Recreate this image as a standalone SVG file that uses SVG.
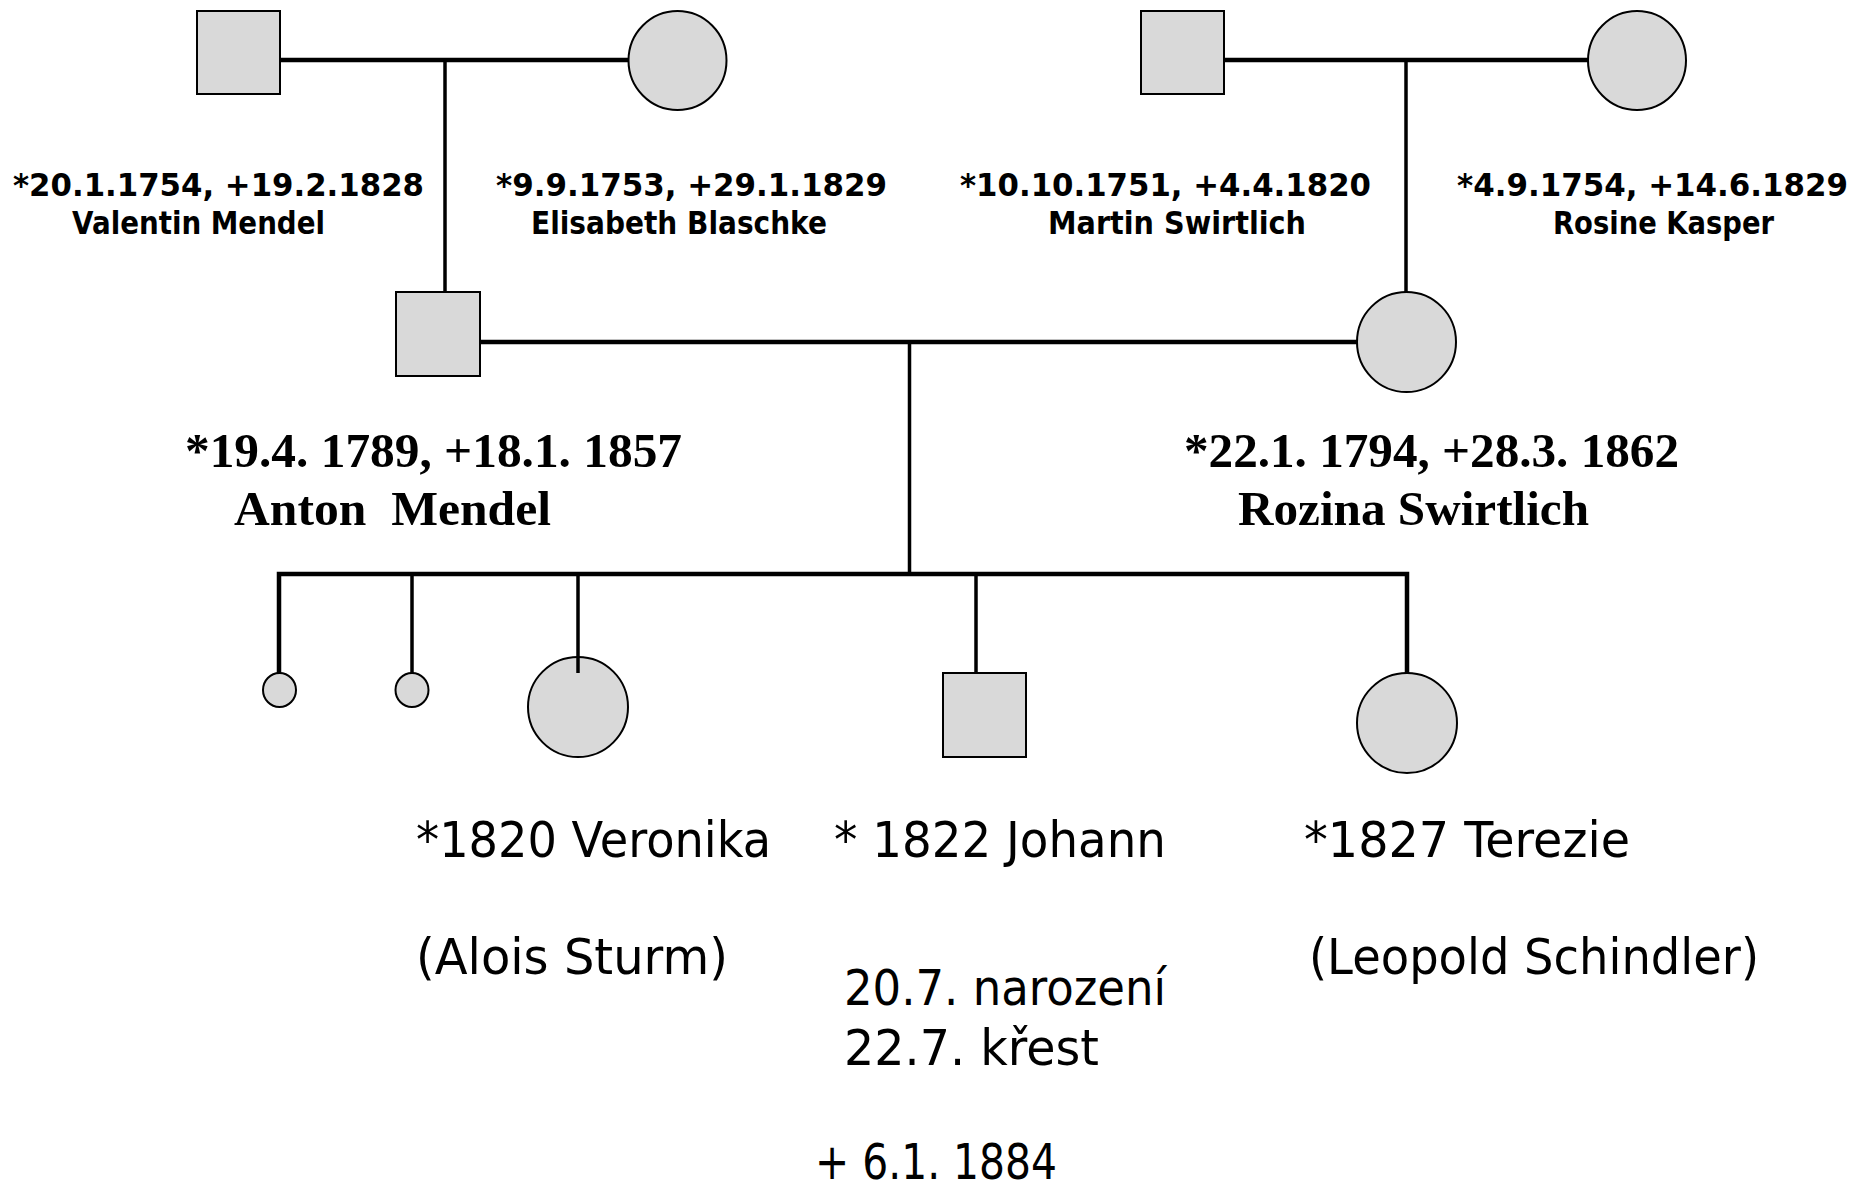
<svg xmlns="http://www.w3.org/2000/svg" width="1869" height="1190" viewBox="0 0 1869 1190">
<style>
.sh{fill:#d9d9d9;stroke:#000;stroke-width:2}
.h{stroke:#000;stroke-width:4.5;fill:none}
.v{stroke:#000;stroke-width:3.5;fill:none}
.s{font-family:"DejaVu Sans",sans-serif;font-weight:bold;font-size:32px;fill:#000}
.b{font-family:"Liberation Serif",serif;font-weight:bold;font-size:48px;fill:#000}
.c{font-family:"DejaVu Sans",sans-serif;font-size:50px;fill:#000}
</style>
<rect width="1869" height="1190" fill="#fff"/>
<g id="valentin">
<rect class="sh" x="197" y="11" width="83" height="83"/>
<text class="s" x="13" y="196" textLength="411" lengthAdjust="spacingAndGlyphs">*20.1.1754, +19.2.1828</text>
<text class="s" x="72" y="234" textLength="253" lengthAdjust="spacingAndGlyphs">Valentin Mendel</text>
</g>
<g id="elisabeth">
<ellipse class="sh" cx="677.5" cy="60.5" rx="49" ry="49.5"/>
<text class="s" x="496" y="196" textLength="391" lengthAdjust="spacingAndGlyphs">*9.9.1753, +29.1.1829</text>
<text class="s" x="531" y="234" textLength="296" lengthAdjust="spacingAndGlyphs">Elisabeth Blaschke</text>
</g>
<g id="martin">
<rect class="sh" x="1141" y="11" width="83" height="83"/>
<text class="s" x="960" y="196" textLength="411" lengthAdjust="spacingAndGlyphs">*10.10.1751, +4.4.1820</text>
<text class="s" x="1048" y="234" textLength="258" lengthAdjust="spacingAndGlyphs">Martin Swirtlich</text>
</g>
<g id="rosine">
<ellipse class="sh" cx="1637" cy="60.5" rx="49" ry="49.5"/>
<text class="s" x="1457" y="196" textLength="391" lengthAdjust="spacingAndGlyphs">*4.9.1754, +14.6.1829</text>
<text class="s" x="1553" y="234" textLength="221" lengthAdjust="spacingAndGlyphs">Rosine Kasper</text>
</g>
<g id="anton">
<rect class="sh" x="396" y="292" width="84" height="84"/>
<text class="b" x="185" y="467" textLength="497" lengthAdjust="spacingAndGlyphs">*19.4. 1789, +18.1. 1857</text>
<text class="b" x="234" y="525" textLength="317" lengthAdjust="spacingAndGlyphs" xml:space="preserve">Anton  Mendel</text>
</g>
<g id="rozina">
<ellipse class="sh" cx="1406.5" cy="342" rx="49.5" ry="50"/>
<text class="b" x="1184" y="467" textLength="495" lengthAdjust="spacingAndGlyphs">*22.1. 1794, +28.3. 1862</text>
<text class="b" x="1238" y="525" textLength="351" lengthAdjust="spacingAndGlyphs">Rozina Swirtlich</text>
</g>
<g id="child1">
<ellipse class="sh" cx="279.5" cy="690" rx="16.5" ry="17"/>
</g>
<g id="child2">
<ellipse class="sh" cx="412" cy="690" rx="16.5" ry="17"/>
</g>
<g id="veronika">
<ellipse class="sh" cx="578" cy="707" rx="50" ry="50"/>
<text class="c" x="416" y="857" textLength="355" lengthAdjust="spacingAndGlyphs">*1820 Veronika</text>
<text class="c" x="416" y="974" textLength="312" lengthAdjust="spacingAndGlyphs">(Alois Sturm)</text>
</g>
<g id="johann">
<rect class="sh" x="943" y="673" width="83" height="84"/>
<text class="c" x="834" y="857" textLength="332" lengthAdjust="spacingAndGlyphs">* 1822 Johann</text>
<text class="c" x="844" y="1005" textLength="322" lengthAdjust="spacingAndGlyphs">20.7. narození</text>
<text class="c" x="844" y="1065" textLength="255" lengthAdjust="spacingAndGlyphs">22.7. křest</text>
<text class="c" x="815" y="1179" textLength="242" lengthAdjust="spacingAndGlyphs">+ 6.1. 1884</text>
</g>
<g id="terezie">
<ellipse class="sh" cx="1407" cy="723" rx="50" ry="50"/>
<text class="c" x="1304" y="857" textLength="326" lengthAdjust="spacingAndGlyphs">*1827 Terezie</text>
<text class="c" x="1309" y="974" textLength="450" lengthAdjust="spacingAndGlyphs">(Leopold Schindler)</text>
</g>
<g id="connectors">
<line class="h" x1="280" y1="60" x2="628" y2="60"/>
<line class="v" x1="445" y1="60" x2="445" y2="292"/>
<line class="h" x1="1224" y1="60" x2="1588" y2="60"/>
<line class="v" x1="1406" y1="60" x2="1406" y2="292"/>
<line class="h" x1="480" y1="342" x2="1357" y2="342"/>
<line class="v" x1="909.5" y1="342" x2="909.5" y2="574"/>
<polyline class="h" points="279,673 279,574 1407,574 1407,673"/>
<line class="v" x1="412" y1="574" x2="412" y2="673"/>
<line class="v" x1="578" y1="574" x2="578" y2="673"/>
<line class="v" x1="976" y1="574" x2="976" y2="673"/>
</g>
</svg>
